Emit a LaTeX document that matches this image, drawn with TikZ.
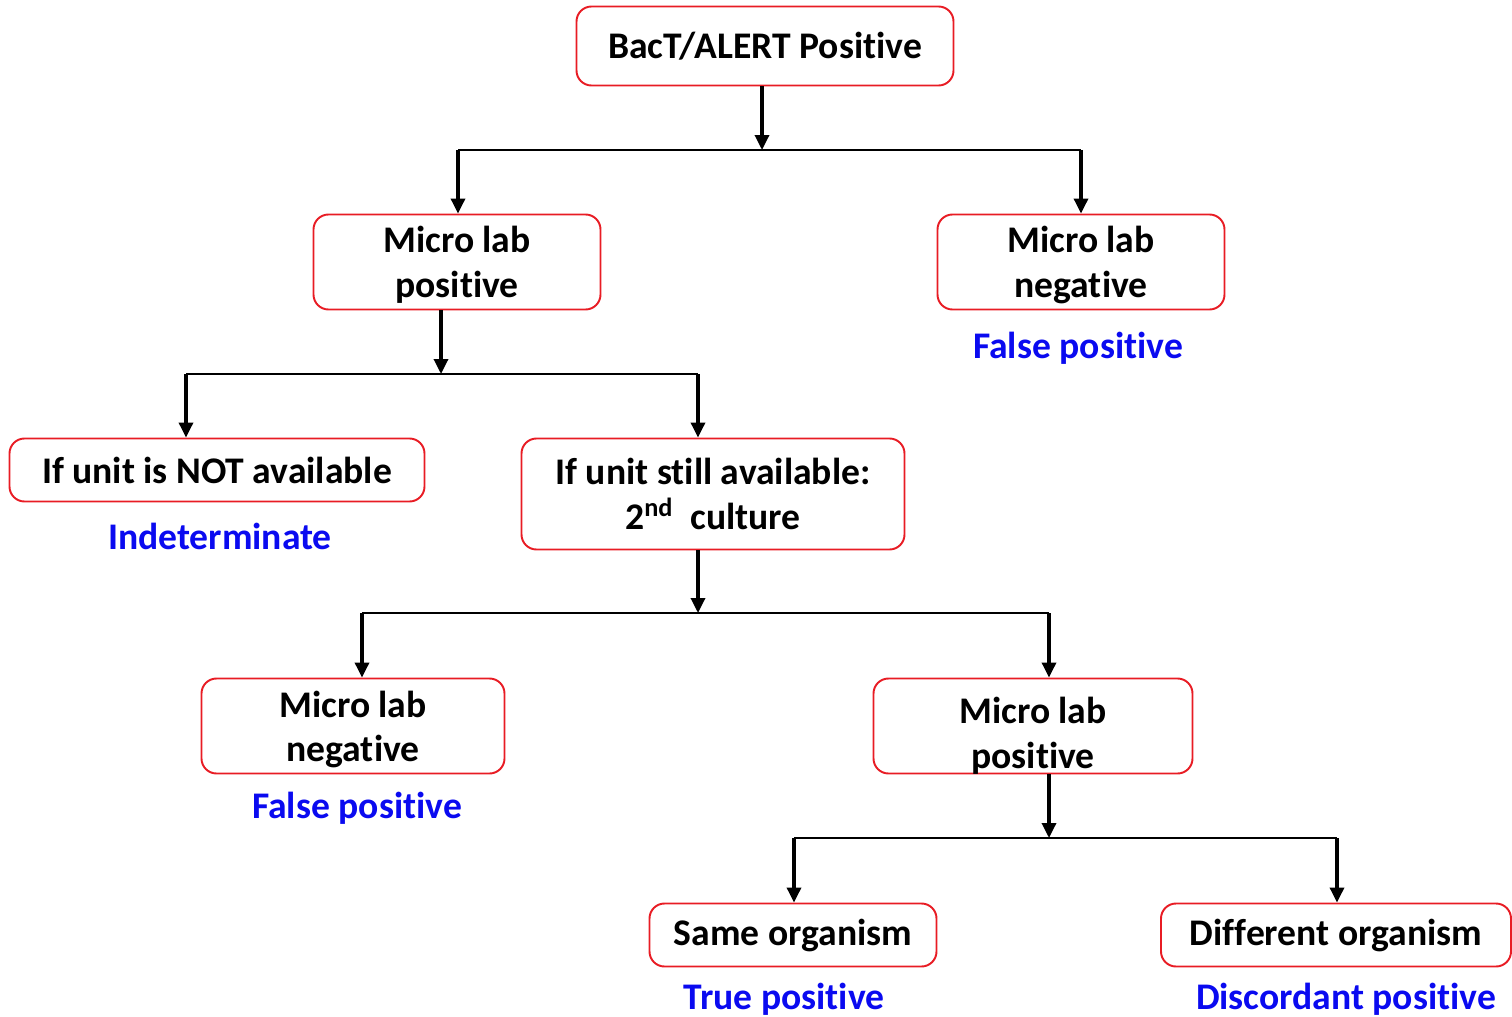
\documentclass[tikz,border=0pt]{standalone}
\usepackage{fontspec}
\setmainfont{Carlito}[Ligatures=NoCommon]
\usetikzlibrary{arrows.meta}

\definecolor{boxred}{RGB}{232,28,36}
\definecolor{resblue}{RGB}{10,10,240}

% two lines, set a little lower inside their box
\newcommand{\lowtwo}[3]{\raisebox{-#1}[\height][\depth]{\begin{tabular}{@{}c@{}}#2\\#3\end{tabular}}}

\tikzset{
	box/.style 2 args = {draw=boxred, line width=1.1pt, rounded corners=0.3cm, align=center,
		minimum width=#1*0.02cm, minimum height=#2*0.02cm, inner sep=0pt,
		font=\fontsize{21.4}{25.5}\selectfont\bfseries},
	result/.style = {text=resblue, font=\fontsize{21.4}{25.5}\selectfont\bfseries},
	stem/.style = {line width=1.9pt, -{Triangle[length=0.3cm, width=0.28cm]}},
	bar/.style = {line width=1.1pt}
}

\begin{document}
\begin{tikzpicture}[x=0.02cm, y=-0.02cm]
\useasboundingbox (0,0) rectangle (1512,1017);

% boxes
\node[box={377}{79}] (alert) at (765,46) {BacT/ALERT Positive};
\node[box={287}{95}] (labpos) at (457,262) {\lowtwo{2.3pt}{Micro lab}{positive}};
\node[box={287}{95}] (labneg) at (1081,262) {\lowtwo{2.3pt}{Micro lab}{negative}};
\node[box={415}{63}] (notavail) at (217,470) {If unit is NOT available};
\node[box={383}{111}] (stillavail) at (713,494) {If unit still available:\\2\textsuperscript{nd}\ \ culture};
\node[box={303}{95}] (labneg2) at (353,726) {\lowtwo{2.6pt}{Micro lab}{negative}};
\node[box={319}{95}] (labpos2) at (1033,726) {\lowtwo{6.2pt}{Micro lab}{positive}};
\node[box={287}{63}] (same) at (793,935) {Same organism};
\node[box={350}{63}] (diff) at (1336,935) {Different organism};

% outcomes
\node[result] (fp1) at (1078,348) {False positive};
\node[result] (indet) at (220,536) {Indeterminate};
\node[result] (fp2) at (357,808) {False positive};
\node[result] (tp) at (784,999) {True positive};
\node[result] (disc) at (1346,999) {Discordant positive};

% junctions
\coordinate (j1) at (762,150);
\coordinate (j1l) at (458,150);
\coordinate (j1r) at (1081,150);
\coordinate (j2) at (441,374);
\coordinate (j2l) at (186,374);
\coordinate (j2r) at (698,374);
\coordinate (j3) at (698,613);
\coordinate (j3l) at (362,613);
\coordinate (j3r) at (1049,613);
\coordinate (j4) at (1049,838);
\coordinate (j4l) at (794,838);
\coordinate (j4r) at (1337,838);

\draw[stem] (alert.south -| j1) -- (j1);
\draw[bar] (j1l) -- (j1r);
\draw[stem] (j1l) -- (labpos.north -| j1l);
\draw[stem] (j1r) -- (labneg.north -| j1r);

\draw[stem] (labpos.south -| j2) -- (j2);
\draw[bar] (j2l) -- (j2r);
\draw[stem] (j2l) -- (notavail.north -| j2l);
\draw[stem] (j2r) -- (stillavail.north -| j2r);

\draw[stem] (stillavail.south -| j3) -- (j3);
\draw[bar] (j3l) -- (j3r);
\draw[stem] (j3l) -- (labneg2.north -| j3l);
\draw[stem] (j3r) -- (labpos2.north -| j3r);

\draw[stem] (labpos2.south -| j4) -- (j4);
\draw[bar] (j4l) -- (j4r);
\draw[stem] (j4l) -- (same.north -| j4l);
\draw[stem] (j4r) -- (diff.north -| j4r);

\end{tikzpicture}
\end{document}
